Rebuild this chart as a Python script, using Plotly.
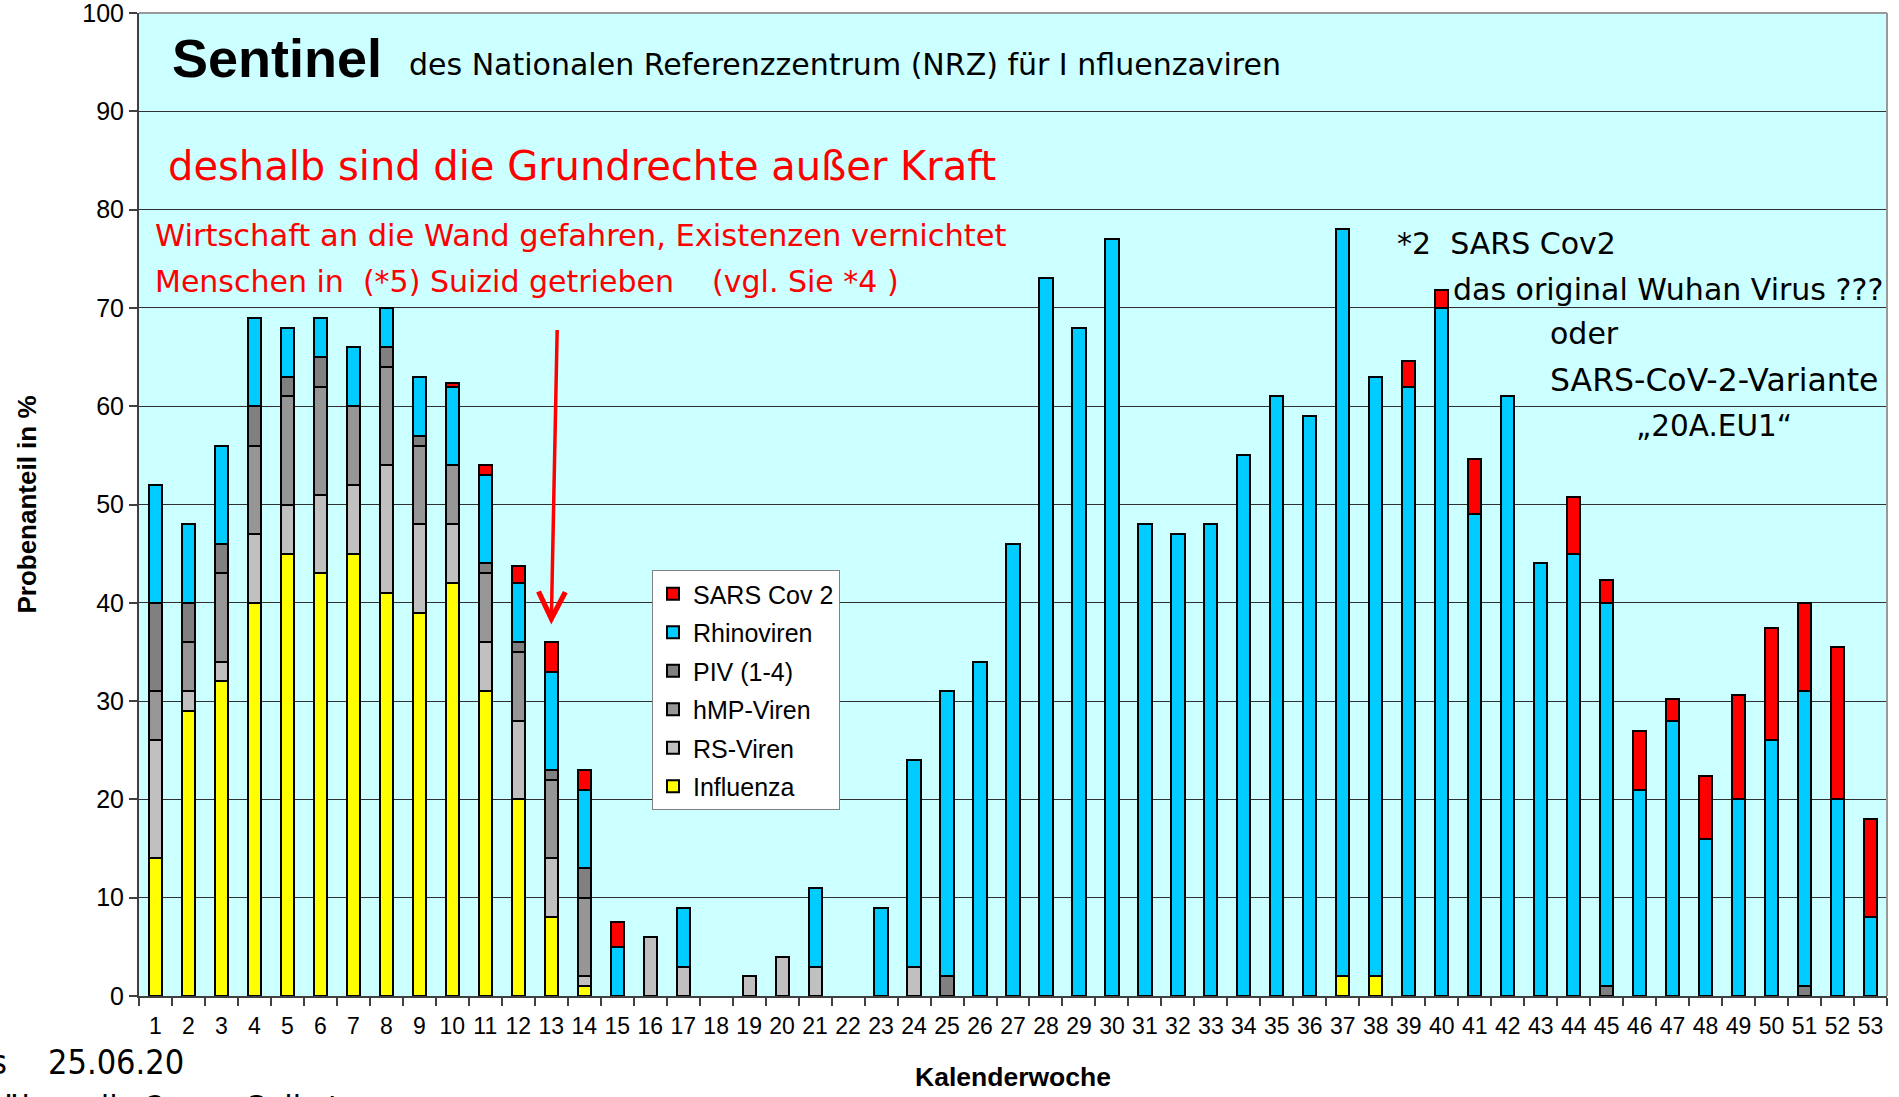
import plotly.graph_objects as go

weeks = [str(i) for i in range(1, 54)]

influenza = [14, 29, 32, 40, 45, 43, 45, 41, 39, 42, 31, 20, 8, 1,
             0, 0, 0, 0, 0, 0, 0, 0, 0, 0, 0, 0, 0, 0, 0, 0, 0, 0, 0, 0, 0, 0,
             2, 2,
             0, 0, 0, 0, 0, 0, 0, 0, 0, 0, 0, 0, 0, 0, 0]
rs_viren = [12, 2, 2, 7, 5, 8, 7, 13, 9, 6, 5, 8, 6, 1,
            0, 6, 3, 0, 2, 4, 3, 0, 0, 3,
            0, 0, 0, 0, 0, 0, 0, 0, 0, 0, 0, 0, 0, 0, 0, 0, 0, 0, 0, 0, 0,
            0, 0, 0, 0, 0, 0, 0, 0, 0, 0, 0, 0, 0, 0]
hmp_viren = [5, 5, 9, 9, 11, 11, 8, 10, 8, 6, 7, 7, 8, 8,
             0, 0, 0, 0, 0, 0, 0, 0, 0, 0, 0, 0, 0, 0, 0, 0, 0, 0, 0, 0, 0, 0,
             0, 0, 0, 0, 0, 0, 0, 0, 0, 0, 0, 0, 0, 0, 0, 0, 0]
piv = [9, 4, 3, 4, 2, 3, 0, 2, 1, 0, 1, 1, 1, 3,
       0, 0, 0, 0, 0, 0, 0, 0, 0, 0,
       2,
       0, 0, 0, 0, 0, 0, 0, 0, 0, 0, 0, 0, 0, 0, 0, 0, 0, 0, 0,
       1,
       0, 0, 0, 0, 0,
       1,
       0, 0]
rhinoviren = [12, 8, 10, 9, 5, 4, 6, 4, 6, 8, 9, 6, 10, 8,
              5, 0, 6, 0, 0, 0, 8, 0, 9, 21, 29, 34, 46, 73, 68, 77,
              48, 47, 48, 55, 61, 59, 76, 61, 62, 70, 49, 61, 44, 45,
              39, 21, 28, 16, 20, 26, 30, 20, 8]
sars_cov2 = [0, 0, 0, 0, 0, 0, 0, 0, 0, 0.4, 1, 1.7, 3, 2, 2.5,
             0, 0, 0, 0, 0, 0, 0, 0, 0, 0, 0, 0, 0, 0, 0, 0, 0, 0, 0, 0, 0, 0, 0,
             2.6, 1.8, 5.6, 0, 0, 5.8, 2.3, 6, 2.2, 6.4, 10.6, 11.4, 9, 15.5, 10]

y_ticks = [0, 10, 20, 30, 40, 50, 60, 70, 80, 90, 100]

# bottom-to-top stacking order; legend shows them top-to-bottom
series = [
    ("Influenza", influenza, "#FFFF00"),
    ("RS-Viren", rs_viren, "#C0C0C0"),
    ("hMP-Viren", hmp_viren, "#969696"),
    ("PIV (1-4)", piv, "#808080"),
    ("Rhinoviren", rhinoviren, "#00CCFF"),
    ("SARS Cov 2", sars_cov2, "#FF0000"),
]

W, H = 1899, 1097
ML, MR, MT, MB = 139, 12, 13, 101
PW, PH = W - ML - MR, H - MT - MB


def px(x, y):
    return (x - ML) / PW, (H - MB - y) / PH


fig = go.Figure()
n = len(series)
for i, (name, vals, col) in enumerate(series):
    fig.add_trace(go.Bar(
        x=weeks, y=[v if v else None for v in vals], name=name,
        marker=dict(color=col, line=dict(color="#000000", width=2)),
        legendrank=n - i, legendgroup=name,
    ))

TXT = "DejaVu Sans"
COND = "DejaVu Sans Condensed, DejaVu Sans"
ann = []


def add_text(text, x, y, size, color="#000000", family=TXT, xanchor="left", bold=False):
    xp, yp = px(x, y)
    ann.append(dict(text=("<b>%s</b>" % text) if bold else text, x=xp, y=yp,
                    xref="paper", yref="paper", xanchor=xanchor, yanchor="middle",
                    showarrow=False, font=dict(size=size, color=color, family=family)))


NB = "\u00a0"
add_text("Sentinel", 170, 58, 54, family="Liberation Sans", bold=True)
add_text("des Nationalen Referenzzentrum (NRZ) für I" + NB + "nfluenzaviren", 407, 64, 30)
add_text("deshalb sind die Grundrechte außer Kraft", 166, 166, 40, color="#FF0000")
add_text("Wirtschaft an die Wand gefahren, Existenzen vernichtet", 153, 236, 30.5, color="#FF0000")
add_text("Menschen in " + NB + "(*5) Suizid getrieben" + NB * 4 + "(vgl. Sie *4 )", 153, 281, 30, color="#FF0000")
add_text("*2" + NB * 2 + "SARS Cov2", 1395, 243, 30)
add_text("das original Wuhan Virus ???", 1451, 289, 30)
add_text("oder", 1548, 334, 30)
add_text("SARS-CoV-2-Variante", 1548, 380, 31.5)
add_text("„20A.EU1“", 1634, 426, 29.5)
add_text("25.06.20", 46, 1062, 34, family=COND)
add_text("s", 9, 1062, 34, xanchor="right", family=COND)
add_text("über alle 2", 0, 1108, 34, family=COND)
add_text("Selbst", 244, 1108, 34, family=COND)

# red arrow
ann.append(dict(x=12, y=37.8, ax=12.18, ay=67.9, xref="x", yref="y", axref="x", ayref="y",
                text="", showarrow=True, arrowhead=5, arrowsize=1.5, arrowwidth=3.5,
                arrowcolor="#FF0000"))

fig.update_layout(
    width=W, height=H, autosize=False,
    margin=dict(l=ML, r=MR, t=MT, b=MB, pad=0, autoexpand=False),
    paper_bgcolor="#FFFFFF", plot_bgcolor="#CCFFFF",
    barmode="stack", bargap=0.6,
    font=dict(family="Liberation Sans", color="#000000"),
    legend=dict(x=px(652, 570)[0], y=px(652, 570)[1], xanchor="left", yanchor="top",
                bgcolor="#FFFFFF", bordercolor="#808080", borderwidth=1,
                font=dict(size=25, family="Liberation Sans"),
                traceorder="grouped", tracegroupgap=3),
    annotations=ann,
    shapes=[
        dict(type="line", xref="paper", yref="paper", x0=0, x1=1, y0=1, y1=1,
             line=dict(color="#999999", width=2)),
        dict(type="line", xref="paper", yref="paper", x0=1, x1=1, y0=0, y1=1,
             line=dict(color="#999999", width=2)),
    ],
)
fig.update_xaxes(
    type="category", tickson="boundaries", ticks="outside", ticklen=8, tickwidth=1.5,
    tickcolor="#404040", showline=True, linecolor="#404040", linewidth=2,
    tickfont=dict(size=23), tickangle=0, showgrid=False, ticklabelstandoff=8,
    automargin=False,
    title=dict(text="<b>Kalenderwoche</b>", font=dict(size=26.5), standoff=30),
)
fig.update_yaxes(
    range=[0, 100.001], tickvals=y_ticks, ticks="outside", ticklen=8, tickwidth=1.5,
    tickcolor="#404040", showline=True, linecolor="#404040", linewidth=2,
    tickfont=dict(size=25), showgrid=True, gridcolor="#303030", gridwidth=1.3,
    zeroline=False, ticklabeloverflow="allow", automargin=False,
    title=dict(text="<b>Probenanteil in %</b>", font=dict(size=26), standoff=38),
)

fig.write_html("out.html", config={"displayModeBar": False},
               post_script="document.body.style.margin='0px';")
